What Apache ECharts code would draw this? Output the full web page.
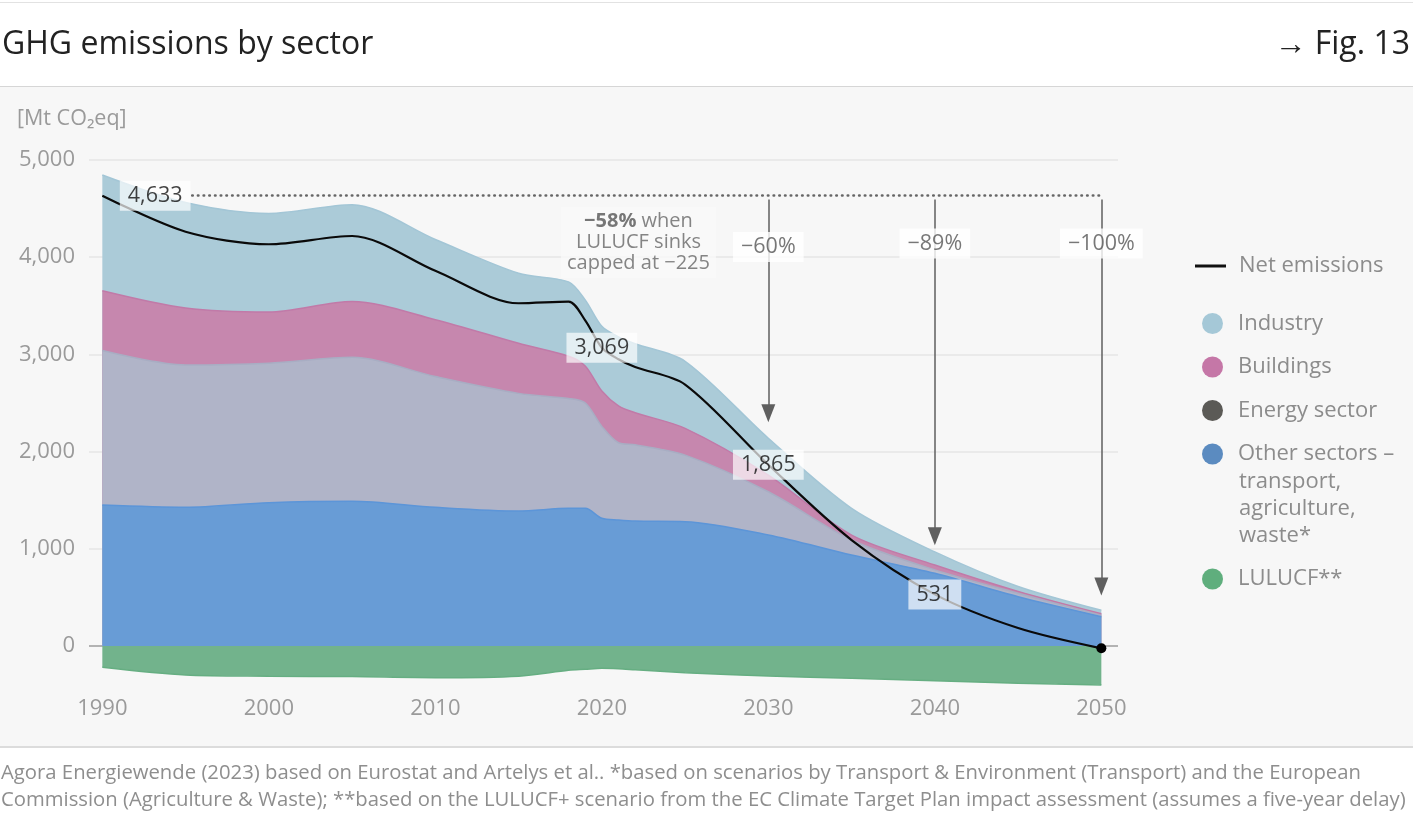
<!DOCTYPE html>
<html>
<head>
<meta charset="utf-8">
<title>GHG emissions by sector</title>
<script src="https://cdn.jsdelivr.net/npm/echarts@6/dist/echarts.min.js"></script>
<style>
  html, body { margin: 0; padding: 0; background: #fff; }
  #wrap { position: relative; width: 1413px; height: 825px; overflow: hidden; }
  .rule-top { position: absolute; left: 0; top: 2px; width: 1413px; height: 1px; background: #e2e2e2; }
  .panel { position: absolute; left: 0; top: 86px; width: 1413px; height: 659px;
           background: #f7f7f7; border-top: 1px solid #d6d6d6; border-bottom: 2px solid #dcdcdc; }
  #chart { position: absolute; left: 0; top: 0; width: 1413px; height: 825px; }
</style>
</head>
<body>
<div id="wrap">
  <div class="rule-top"></div>
  <div class="panel"></div>
  <div id="chart"></div>
</div>
<script>
const FONT = '"Open Sans", "Noto Sans", sans-serif'

// values (Mt CO2eq)
const years = [1990, 1995, 2000, 2005, 2010, 2015, 2018, 2019, 2020, 2021, 2022, 2025, 2030, 2035, 2040, 2045, 2050]
const otherSectors = [1450, 1427, 1475, 1490, 1427, 1389, 1416, 1416, 1314, 1296, 1285, 1279, 1142, 936, 748, 507, 302]
const energySector = [1590, 1465, 1435, 1480, 1345, 1210, 1130, 1085, 945, 795, 785, 685, 445, 155, 35, 35, 15]
const buildings = [615, 585, 525, 575, 585, 515, 435, 380, 365, 380, 330, 275, 170, 50, 50, 20, 15]
const industry = [1190, 1085, 1015, 995, 825, 720, 765, 680, 665, 710, 710, 690, 380, 275, 135, 50, 35]
const lulucf = [-219, -298, -310, -315, -326, -310, -250, -240, -230, -235, -245, -274, -309, -333, -357, -384, -401]
const netEmissions = [4633, 4262, 4133, 4218, 3860, 3526, 3543, 3350, 3069, 2950, 2870, 2690, 1865, 1090, 531, 185, -24]

const labelledYears = [1990, 2020, 2030, 2040]
const xTicks = [1990, 2000, 2010, 2020, 2030, 2040, 2050]

// reduction arrows from the 1990 level
const arrowYears = [2030, 2040, 2050]
const arrowEnds = [2395, 1130, 612]
const arrowTexts = ['−60%', '−89%', '−100%']
const arrowTextLevels = [4105, 4140, 4140]
const noteAt = [2022.2, 4150]
const baselineStart = 1995.4

const footnote = 'Agora Energiewende (2023) based on Eurostat and Artelys et al.. *based on scenarios by Transport & Environment (Transport) and the European\n' +
  'Commission (Agriculture & Waste); **based on the LULUCF+ scenario from the EC Climate Target Plan impact assessment (assumes a five-year delay)'

const pairs = arr => years.map((y, i) => [y, arr[i]])
const fmt = v => v.toLocaleString('en-US')

// stacked tops (value axis on x, so the sums are built here)
const topOther = otherSectors
const topEnergy = topOther.map((v, i) => v + energySector[i])
const topBuildings = topEnergy.map((v, i) => v + buildings[i])
const topIndustry = topBuildings.map((v, i) => v + industry[i])

function areaSeries(name, data, fill, edge, z) {
  return {
    name, type: 'line', data: pairs(data),
    smooth: 0.3, symbol: 'none', silent: true,
    lineStyle: { color: edge, width: 1.5 },
    itemStyle: { color: fill },
    areaStyle: { color: fill, opacity: 1 },
    z
  }
}

const netData = pairs(netEmissions)
netData[netData.length - 1] = { value: netData[netData.length - 1], symbol: 'circle', symbolSize: 10 }

const gridColors = [0, 500, 1000, 1500, 2000, 2500, 3000, 3500, 4000, 4500, 5000]
  .map(v => v === 0 ? '#9c9c9c' : (v % 1000 === 0 ? '#e6e6e6' : 'rgba(0,0,0,0)'))

const legendText = { color: '#8c8c8c', fontSize: 22, fontFamily: FONT, lineHeight: 24 }

const option = {
  animation: false,
  textStyle: { fontFamily: FONT },
  title: [
    { text: 'GHG emissions by sector', left: 2, top: 25, padding: 0,
      textStyle: { fontSize: 32, fontWeight: 'normal', color: '#222', lineHeight: 40, fontFamily: FONT } },
    { text: '→ Fig. 13', right: 3, top: 25, padding: 0,
      textStyle: { fontSize: 32, fontWeight: 'normal', color: '#222', lineHeight: 40, fontFamily: FONT } },
    { text: '[Mt CO₂eq]', left: 17, top: 105, padding: 0,
      textStyle: { fontSize: 21.5, fontWeight: 'normal', color: '#9a9a9a', lineHeight: 28, fontFamily: FONT } },
    { text: footnote, left: 1, top: 760, padding: 0,
      textStyle: { fontSize: 20.3, fontWeight: 'normal', color: '#8e8e8e', lineHeight: 27, fontFamily: FONT } }
  ],
  legend: [
    { left: 1195, top: 254, padding: 0, itemWidth: 31, itemHeight: 3, selectedMode: false,
      textStyle: { ...legendText, padding: [0, 0, 0, 8] },
      data: [{ name: 'Net emissions', icon: 'rect', itemStyle: { color: '#111' } }] },
    { left: 1202, top: 311.5, padding: 0, orient: 'vertical', itemWidth: 21, itemHeight: 21, itemGap: 19.5,
      selectedMode: false, textStyle: { ...legendText, padding: [0, 0, 0, 10] },
      formatter: n => n.startsWith('Other') ? 'Other sectors –' : n,
      data: [
        { name: 'Industry', icon: 'circle', itemStyle: { color: '#a5c8d7' } },
        { name: 'Buildings', icon: 'circle', itemStyle: { color: '#c577a7' } },
        { name: 'Energy sector', icon: 'circle', itemStyle: { color: '#5b5a56' } },
        { name: 'Other sectors – transport, agriculture, waste*', icon: 'circle', itemStyle: { color: '#5b8bc0' } }
      ] },
    { left: 1202, top: 567, padding: 0, itemWidth: 21, itemHeight: 21, selectedMode: false,
      textStyle: { ...legendText, padding: [0, 0, 0, 10] },
      data: [{ name: 'LULUCF**', icon: 'circle', itemStyle: { color: '#5fae7d' } }] }
  ],
  graphic: [
    { type: 'text', left: 1239, top: 468, silent: true,
      style: { text: 'transport,\nagriculture,\nwaste*', fill: '#8c8c8c', font: '22px ' + FONT, lineHeight: 27 } }
  ],
  grid: { left: 89, right: 295, top: 160, bottom: 825 - 694.6 },
  xAxis: {
    type: 'value', min: 1989.2, max: 2051,
    axisLine: { show: false, onZero: false }, axisTick: { show: false }, splitLine: { show: false },
    axisLabel: { customValues: xTicks, formatter: v => String(v), color: '#9a9a9a', fontSize: 22, margin: 3, fontFamily: FONT }
  },
  yAxis: {
    type: 'value', min: -500, max: 5000, interval: 500,
    axisLine: { show: false }, axisTick: { show: false },
    axisLabel: { color: '#9a9a9a', fontSize: 22, margin: 14, fontFamily: FONT,
      formatter: v => (v >= 0 && v % 1000 === 0) ? fmt(v) : '' },
    splitLine: { show: true, showMinLine: false, lineStyle: { color: gridColors, width: 1.5 } }
  },
  series: [
    areaSeries('Industry', topIndustry, '#abcbd8', '#a3c6d6', 1),
    areaSeries('Buildings', topBuildings, '#c687ae', '#c17aa8', 2),
    areaSeries('Energy sector', topEnergy, '#b0b4c8', '#a8adc3', 3),
    areaSeries('Other sectors – transport, agriculture, waste*', topOther, '#689cd6', '#5c95d8', 4),
    areaSeries('LULUCF**', lulucf, '#72b38c', '#66ae82', 4),
    {
      name: 'Net emissions', type: 'line', data: netData, silent: true,
      smooth: 0.3, symbol: 'none', showSymbol: true,
      itemStyle: { color: '#000' },
      lineStyle: { color: '#0a0a0a', width: 2.2 },
      z: 5,
      markLine: {
        silent: true, symbol: ['none', 'none'], animation: false,
        label: { show: false },
        data: [
          [
            { coord: [baselineStart, netEmissions[0]], lineStyle: { type: [0.5, 5.2], cap: 'round', width: 2.6, color: '#666' } },
            { coord: [2050, netEmissions[0]] }
          ],
          ...arrowYears.map((y, i) => [
            { coord: [y, netEmissions[0] - 40], lineStyle: { type: 'solid', width: 1.5, color: '#5f5f5f' } },
            { coord: [y, arrowEnds[i]], symbol: 'triangle', symbolSize: [14, 18] }
          ])
        ]
      }
    },
    {
      name: 'netLabels', type: 'scatter', silent: true, z: 7,
      symbolSize: 1, itemStyle: { color: 'rgba(0,0,0,0)' },
      data: labelledYears.map(y => {
        const v = netEmissions[years.indexOf(y)]
        return {
          value: [y, v],
          label: y === 1990 ? { position: 'right', distance: 17 } : { position: 'inside' }
        }
      }),
      label: {
        show: true, formatter: p => fmt(p.value[1]), color: '#111', fontSize: 21.5, fontFamily: FONT,
        backgroundColor: 'rgba(255,255,255,0.85)', padding: [5, 8, 3, 8]
      }
    },
    {
      name: 'arrowLabels', type: 'scatter', silent: true, z: 7,
      symbolSize: 1, itemStyle: { color: 'rgba(0,0,0,0)' },
      data: arrowYears.map((y, i) => [y, arrowTextLevels[i]]),
      label: {
        show: true, position: 'inside', formatter: p => arrowTexts[p.dataIndex],
        color: '#555', fontSize: 21.5, fontFamily: FONT,
        backgroundColor: '#ffffff', padding: [5, 8, 3, 8]
      }
    },
    {
      name: 'note', type: 'scatter', silent: true, z: 7,
      symbolSize: 1, itemStyle: { color: 'rgba(0,0,0,0)' },
      data: [noteAt],
      label: {
        show: true, position: 'inside', align: 'center',
        formatter: '{b|−58%} when\nLULUCF sinks\ncapped at −225',
        color: '#666', fontSize: 20, lineHeight: 21, fontFamily: FONT,
        backgroundColor: 'rgba(250,250,250,0.9)', padding: [4, 6],
        rich: { b: { fontWeight: 'bold', color: '#555', fontSize: 20, fontFamily: FONT } }
      }
    }
  ]
}

const chart = echarts.init(document.getElementById('chart'), null, { renderer: 'canvas' })
chart.setOption(option)
</script>
</body>
</html>
